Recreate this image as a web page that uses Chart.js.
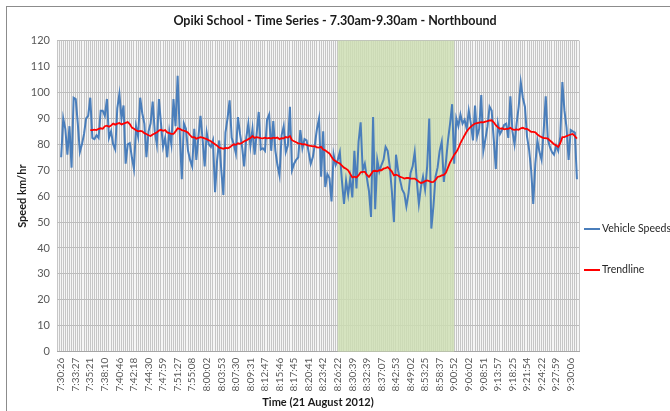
<!DOCTYPE html>
<html>
<head>
<meta charset="utf-8">
<script src="https://cdn.jsdelivr.net/npm/chart.js@4.4.1/dist/chart.umd.min.js"></script>
<style>
  html, body { margin: 0; padding: 0; background: #fff; }
  #wrap { position: relative; width: 670px; height: 411px; }
</style>
</head>
<body>
<div id="wrap"><canvas id="chart" width="670" height="411"></canvas></div>
<script>
// tick labels shown on the time axis, one every labelStep vehicles
const timeLabels = [
    "7:30:26", "7:33:27", "7:35:21", "7:38:10", "7:40:46", "7:42:18", "7:44:30", "7:47:59",
    "7:51:27", "7:55:08", "8:00:02", "8:03:53", "8:07:30", "8:09:31", "8:12:47", "8:15:46",
    "8:17:45", "8:20:41", "8:23:42", "8:26:22", "8:30:39", "8:32:39", "8:37:07", "8:42:53",
    "8:49:02", "8:53:25", "8:58:37", "9:00:52", "9:06:02", "9:08:51", "9:13:57", "9:18:25",
    "9:21:54", "9:24:22", "9:27:59", "9:30:06",
];
const labelStep = 7;

// shaded school zone period
const zoneStartLabel = "8:26:22";
const zoneEndLabel = "9:00:52";

// km/hr, one value per vehicle
const vehicleSpeeds = [
    75, 90, 86, 76, 87, 71, 98, 97.5, 88, 77, 80, 84, 90, 91, 98, 82.5, 82, 83.5, 82.5, 93,
    93, 91, 97.5, 82.5, 85, 80, 78, 94, 99.5, 90, 95, 72.5, 80, 80.5, 75, 70.5, 87, 83, 98, 92,
    88, 75, 85, 88, 96.5, 85, 80, 97.5, 88, 79, 82.5, 75, 85, 80, 97.5, 87, 106.5, 85, 66.5, 88,
    86, 77.5, 74, 71.5, 86, 74, 83, 91, 82, 71.5, 84.5, 80, 79, 81.5, 61.5, 74, 81.5, 70, 60.5, 84.5,
    90, 97, 82.5, 80, 76.5, 90.5, 84, 79, 71.5, 82.5, 88, 79.5, 86, 76, 84, 92.5, 78, 78.5, 77.5, 89.5,
    91.5, 77.5, 89, 77.5, 72, 68, 83.5, 87, 77, 79.5, 94.5, 70, 72.5, 74, 75, 85.5, 78.5, 82, 81.5, 77,
    72.5, 75, 80, 86, 90, 67.5, 85, 63.5, 68.5, 67, 58, 76, 72, 74, 77, 66, 57, 66, 60.5, 67,
    59.5, 77.5, 63, 81, 88.5, 70, 72.5, 67, 62, 52, 90.5, 55, 74, 69.5, 72, 74, 79, 77.5, 71.5, 62,
    50, 76, 70, 66, 62.5, 61, 56, 61, 69, 71.5, 77, 66, 57, 63.5, 67.5, 62.5, 71.5, 90, 47.5, 56,
    67.5, 71, 77.5, 81, 65.5, 73, 81.5, 88, 95.5, 72.5, 90, 87, 91.5, 88, 89.5, 86, 93, 88, 81.5, 95,
    83, 86, 99, 77.5, 82, 87, 94.5, 93, 82, 70.5, 88, 84, 85.5, 87.5, 88, 82.5, 98.5, 85, 80, 88,
    94.5, 104, 98, 94.5, 83, 78, 70, 57, 72.5, 81.5, 77, 74, 85, 98.5, 82, 79, 77, 76, 79.5, 77.5,
    83, 104, 93, 86.5, 74, 85.5, 85, 84.5, 66.5,
];

// trendline (moving average), starting at vehicle trendStart
const trendStart = 14;
const trendline = [
    85.5, 85.5, 85.7, 85.5, 86, 86.2, 86, 87, 87.2, 86.8, 87.3, 88, 87.6, 88, 88.2, 87.7,
    88, 88.3, 88.6, 87.8, 86.5, 86, 85.4, 85, 85.2, 85, 84.3, 84, 83.5, 83.2, 83.8, 84.2,
    84.6, 85.3, 85.6, 85.2, 85.5, 84.6, 84.3, 84, 84, 85, 86.2, 86, 85.5, 85.3, 85, 84.5,
    83.5, 82.7, 82.8, 82.2, 82.5, 82.8, 82.6, 82.3, 82, 81.6, 81.2, 80.6, 80, 79.5, 78.7, 78.5,
    78.3, 78.6, 78.5, 78.8, 79.5, 80, 79.8, 80.4, 80.2, 80.6, 81.2, 81.5, 82, 82.4, 83.2, 82.5,
    82.8, 82.6, 82.4, 82.3, 82.6, 82.3, 82.5, 82.2, 82.6, 82.4, 82.6, 82, 82.4, 82.3, 82.8, 82.6,
    83.2, 81.6, 81.2, 80.8, 80.4, 80.3, 80, 80.1, 79.8, 79.5, 79.4, 79.2, 79.3, 78.8, 78.7, 79,
    78, 77.7, 77, 76.5, 75.2, 74, 73.5, 73, 72.6, 71.8, 71, 70.6, 70, 68.6, 67.2, 67.5,
    67.2, 68, 69.2, 69.4, 69.4, 68.2, 67.4, 68.5, 69.7, 69.8, 69.6, 70, 70, 70.6, 70.8, 71.2,
    70.4, 69.5, 68, 68.3, 68, 67.4, 67.2, 66.8, 67, 67, 66.8, 66.8, 66.8, 66.2, 65.6, 65.1,
    65.3, 65.8, 66.1, 65.8, 65.4, 65.5, 66.3, 67.4, 67.6, 68, 68.2, 69, 71, 73, 74.5, 76,
    77, 78.5, 80.5, 82, 83.5, 85, 86, 86.8, 87.5, 88, 88.2, 88.4, 88.6, 88.5, 88.8, 89,
    89.2, 89.3, 88.5, 87.4, 86.6, 86, 86.2, 85.8, 86, 86, 86.4, 85.8, 85.6, 85.8, 85.6, 86.2,
    86.4, 86, 86, 85.4, 84.8, 84.8, 84.6, 83.8, 83.2, 82.8, 82.4, 82.4, 82.2, 81.5, 80.8, 80,
    79.6, 79, 80.5, 82.8, 82.8, 83.2, 83.5, 83.8, 84, 83.2, 82.2,
];

const BLUE = "#4a7ebb";
const RED = "#ff0000";
const FONT = "Lato";
const TITLE = "Opiki School - Time Series - 7.30am-9.30am - Northbound";

const zoneStart = timeLabels.indexOf(zoneStartLabel) * labelStep;
const zoneEnd = timeLabels.indexOf(zoneEndLabel) * labelStep;

const chartDecor = {
    id: "chartDecor",
    beforeDraw(chart) {
        const { ctx, chartArea: a } = chart;
        ctx.save();
        ctx.fillStyle = "#f6f6f6";
        ctx.fillRect(a.left, a.top, a.right - a.left, a.bottom - a.top);
        ctx.restore();
    },
    beforeDatasetsDraw(chart) {
        const { ctx, chartArea: a, scales } = chart;
        const x0 = scales.x.getPixelForValue(zoneStart);
        const x1 = scales.x.getPixelForValue(zoneEnd);
        ctx.save();
        ctx.fillStyle = "rgba(205, 222, 178, 0.8)";
        ctx.fillRect(x0, a.top, x1 - x0, a.bottom - a.top);
        ctx.restore();
    },
    afterDraw(chart) {
        const { ctx, chartArea: a } = chart;
        ctx.save();
        // chart border (only top/left fall inside the picture)
        ctx.strokeStyle = "#8c8c8c";
        ctx.lineWidth = 1;
        ctx.strokeRect(6.5, 6.5, 700, 500);
        // title, centred on the whole chart
        ctx.font = "bold 12.5px " + FONT;
        ctx.fillStyle = "#1a1a1a";
        ctx.textAlign = "center";
        ctx.textBaseline = "middle";
        ctx.fillText(TITLE, chart.width / 2, 21);
        // legend
        const items = [
            { label: "Vehicle Speeds", color: BLUE, y: 229 },
            { label: "Trendline", color: RED, y: 270 },
        ];
        ctx.font = "10.5px " + FONT;
        ctx.textAlign = "left";
        items.forEach((it) => {
            ctx.strokeStyle = it.color;
            ctx.lineWidth = 2;
            ctx.beginPath();
            ctx.moveTo(a.right + 5, it.y);
            ctx.lineTo(a.right + 21, it.y);
            ctx.stroke();
            ctx.fillStyle = "#262626";
            ctx.fillText(it.label, a.right + 23, it.y);
        });
        ctx.restore();
    },
};

new Chart(document.getElementById("chart"), {
    type: "line",
    data: {
        datasets: [
            {
                label: "Trendline",
                data: trendline.map((v, i) => ({ x: i + trendStart, y: v })),
                borderColor: RED,
                borderWidth: 1.8,
                pointRadius: 0,
                tension: 0,
                order: 0,
            },
            {
                label: "Vehicle Speeds",
                data: vehicleSpeeds.map((v, i) => ({ x: i, y: v })),
                borderColor: BLUE,
                borderWidth: 2,
                pointRadius: 0,
                tension: 0,
                order: 1,
            },
        ],
    },
    options: {
        responsive: false,
        animation: false,
        layout: { padding: { left: 0, right: 91, top: 40.7, bottom: 0 } },
        plugins: {
            legend: { display: false },
            tooltip: { enabled: false },
            title: { display: false },
        },
        scales: {
            x: {
                type: "linear",
                min: -2,
                max: 249,
                grid: { color: "#c6c6c6", drawTicks: false },
                border: { color: "#a6a6a6" },
                ticks: {
                    stepSize: 1,
                    autoSkip: false,
                    minRotation: 90,
                    maxRotation: 90,
                    padding: 6,
                    color: "#595959",
                    font: { family: FONT, size: 10 },
                    callback: (v) => (v >= 0 && v % labelStep === 0 && timeLabels[v / labelStep]) || "",
                },
                title: {
                    display: true,
                    text: "Time (21 August 2012)",
                    color: "#1a1a1a",
                    font: { family: FONT, size: 11, weight: "bold" },
                    padding: { top: 0, bottom: 2.4 },
                },
                afterFit: (s) => { s.height = 59.4; },
            },
            y: {
                min: 0,
                max: 120,
                grid: { color: "#bdbdbd", drawTicks: false },
                border: { display: false },
                ticks: {
                    stepSize: 10,
                    padding: 7,
                    color: "#595959",
                    font: { family: FONT, size: 11 },
                },
                title: {
                    display: true,
                    text: "Speed km/hr",
                    color: "#1a1a1a",
                    font: { family: FONT, size: 11, weight: "bold" },
                    padding: { top: 15.4, bottom: 0 },
                },
                afterFit: (s) => { s.width = 57; },
            },
        },
    },
    plugins: [chartDecor],
});
</script>
</body>
</html>
